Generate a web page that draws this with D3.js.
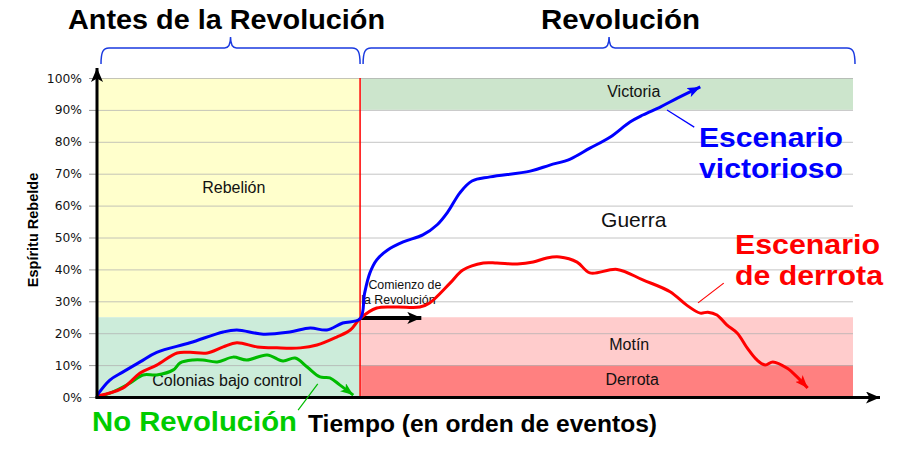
<!DOCTYPE html>
<html>
<head>
<meta charset="utf-8">
<script src="https://cdn.jsdelivr.net/npm/d3@7"></script>
<style>
  html, body { margin: 0; padding: 0; background: #fff; }
  svg { display: block; font-family: "Liberation Sans", Arial, sans-serif; }
</style>
</head>
<body>
<svg id="chart" width="900" height="454"></svg>
<script>
// ── Data ───────────────────────────────────────────────────
// t = time in order of events (0..100), v = rebel spirit (%)
const yTicks = [0, 10, 20, 30, 40, 50, 60, 70, 80, 90, 100];
const revolutionT = 34.8;

const victoriousT = [0, 1.7, 3.4, 5.7, 7.9, 12.3, 16.7, 18.5, 22, 25.5, 28.2, 30.4, 32.5, 34.8,
  35.4, 36.1, 37, 38.4, 40.5, 43.1, 45, 46.4, 48, 49.6, 52, 57.3, 59.9, 62.6, 65.2, 67.9,
  70.5, 72.2, 74.5, 76.2, 79.8];
const victoriousV = [0.5, 5.3, 7.8, 11, 14, 17, 20.4, 21, 19.7, 20.4, 21.6, 21, 23.2, 24.5,
  32.6, 38.9, 43, 46, 48.6, 50.8, 54, 58, 64, 67.7, 69, 70.8, 72.7, 74.6, 78, 81.5,
  86.2, 88.4, 90.9, 93, 97.2];

const defeatT = [0, 3.4, 5.7, 7.9, 10.6, 12.3, 14.6, 16.7, 18.5, 21.2, 23.8, 26.9, 29.1, 31.7,
  33.5, 34.8, 37, 39.7, 42.7, 44, 46.7, 48.4, 51.1, 52.9, 55.6, 57.7, 59.5, 61.2, 63.5,
  65.2, 68.8, 72.2, 75.8, 78, 79.8, 80.8, 82, 83.3, 84.7, 86, 87.3, 88.4, 89.4, 91.3, 92.6, 94];
const defeatV = [0.3, 2.8, 7.5, 10, 13.8, 14, 13.8, 15.7, 17, 15.7, 15.4, 15.4, 16.3, 18.8,
  21, 24.6, 27.9, 28.2, 28.2, 29.5, 35.7, 39.8, 42, 42, 41.7, 42.3, 43.6, 43.9, 42.3,
  38.9, 40, 36.7, 33, 28.8, 26.3, 26.6, 25.7, 22.6, 20, 15.4, 11.6, 10, 11, 9, 6.3, 2.8];

const noRevT = [0, 1.7, 4.4, 6.1, 7.9, 10.1, 11, 12.7, 14, 15.9, 18, 19.8, 22.5, 24.6, 26.2,
  27.8, 29.5, 30.8, 32.1, 33.9];
const noRevV = [0, 1.2, 4.4, 6.9, 6.9, 8.5, 10.7, 11.6, 11.6, 11, 12.5, 11.6, 13.2, 11.3, 12.2,
  9.4, 6.3, 6, 3.8, 0.6];

// phase bands: [t0, t1, v0, v1, label, colour]
const bands = [
  [0, revolutionT, 25, 100, 'Rebelión', '#ffffcc'],
  [0, revolutionT, 0, 25, 'Colonias bajo control', '#ccecda'],
  [revolutionT, 100, 90, 100, 'Victoria', '#cce5cc'],
  [revolutionT, 100, 25, 90, 'Guerra', '#ffffff'],
  [revolutionT, 100, 10, 25, 'Motín', '#ffcccc'],
  [revolutionT, 100, 0, 10, 'Derrota', '#ff8080']
];

// ── Setup ──────────────────────────────────────────────────
const svg = d3.select('#chart');
const x = d3.scaleLinear().domain([0, 100]).range([97, 853]);
const y = d3.scaleLinear().domain([0, 100]).range([397, 78]);

const defs = svg.append('defs');
function arrowMarker(id, color, len, wid) {
  defs.append('marker')
    .attr('id', id)
    .attr('markerUnits', 'userSpaceOnUse')
    .attr('viewBox', `0 0 ${len} ${wid}`)
    .attr('refX', len).attr('refY', wid / 2)
    .attr('markerWidth', len).attr('markerHeight', wid)
    .attr('orient', 'auto')
    .append('path')
    .attr('d', `M0,0 L${len},${wid / 2} L0,${wid} L${len * 0.25},${wid / 2} Z`)
    .attr('fill', color);
}
arrowMarker('ar-blue', '#0000ff', 13, 10);
arrowMarker('ar-red', '#ff0000', 13, 10);
arrowMarker('ar-green', '#00bb00', 13, 10);
arrowMarker('ar-black', '#000', 14, 12);

// ── Bands ──────────────────────────────────────────────────
svg.append('g').selectAll('rect').data(bands).enter().append('rect')
  .attr('x', d => x(d[0]) + 1)
  .attr('y', d => y(d[3]))
  .attr('width', d => x(d[1]) - x(d[0]) - 1)
  .attr('height', d => y(d[2]) - y(d[3]))
  .attr('fill', d => d[5]);

// Gridlines + ticks
const grid = svg.append('g');
grid.selectAll('line.grid').data(yTicks.slice(1)).enter().append('line')
  .attr('x1', x(0)).attr('x2', x(100))
  .attr('y1', d => y(d) + 0.5).attr('y2', d => y(d) + 0.5)
  .attr('stroke', '#b0b0b0').attr('stroke-opacity', 0.75).attr('stroke-width', 1);
grid.selectAll('line.tick').data(yTicks).enter().append('line')
  .attr('x1', x(0) - 8).attr('x2', x(0))
  .attr('y1', d => y(d) + 0.5).attr('y2', d => y(d) + 0.5)
  .attr('stroke', '#999').attr('stroke-width', 1);
grid.selectAll('text').data(yTicks).enter().append('text')
  .attr('x', 82).attr('y', d => y(d) + 4.5)
  .attr('text-anchor', 'end')
  .attr('font-family', '"DejaVu Sans", sans-serif')
  .attr('font-size', 12.3)
  .attr('fill', '#111')
  .text(d => d + '%');

// Band labels
const bandLabel = [
  { t: 18.1, v: 64, size: 16, text: 'Rebelión' },
  { t: 17.2, v: 3.5, size: 16, text: 'Colonias bajo control' },
  { t: 71, v: 94.2, size: 16, text: 'Victoria' },
  { t: 71, v: 53.3, size: 21, text: 'Guerra' },
  { t: 70.4, v: 14.7, size: 16, text: 'Motín' },
  { t: 70.8, v: 3.8, size: 16, text: 'Derrota' }
];
svg.append('g').selectAll('text').data(bandLabel).enter().append('text')
  .attr('x', d => x(d.t)).attr('y', d => y(d.v))
  .attr('text-anchor', 'middle')
  .attr('font-size', d => d.size)
  .attr('fill', '#111')
  .text(d => d.text);

// Comienzo de la Revolución
const comienzo = svg.append('text').attr('font-size', 12.4).attr('fill', '#111');
comienzo.append('tspan').attr('x', x(35.9)).attr('y', y(33.9)).text('Comienzo de');
comienzo.append('tspan').attr('x', x(34.95)).attr('y', y(29.2)).text('la Revolución');

// Revolution line
svg.append('line')
  .attr('x1', x(revolutionT)).attr('x2', x(revolutionT))
  .attr('y1', y(100)).attr('y2', y(0))
  .attr('stroke', '#ff0000').attr('stroke-width', 1.5);

// Black arrow
svg.append('line')
  .attr('x1', x(34.9)).attr('x2', x(42.9))
  .attr('y1', y(24.8)).attr('y2', y(24.8))
  .attr('stroke', '#000').attr('stroke-width', 4)
  .attr('marker-end', 'url(#ar-black)');

// ── Series ─────────────────────────────────────────────────
const line = d3.line()
  .x(d => x(d[0])).y(d => y(d[1]))
  .curve(d3.curveCatmullRom.alpha(0.5));

const series = [
  { t: noRevT, v: noRevV, color: '#00bb00', marker: 'ar-green' },
  { t: defeatT, v: defeatV, color: '#ff0000', marker: 'ar-red' },
  { t: victoriousT, v: victoriousV, color: '#0000ff', marker: 'ar-blue' }
];
series.forEach(s => {
  svg.append('path')
    .datum(d3.zip(s.t, s.v))
    .attr('d', line)
    .attr('fill', 'none')
    .attr('stroke', s.color)
    .attr('stroke-width', 3)
    .attr('stroke-linejoin', 'round')
    .attr('marker-end', `url(#${s.marker})`);
});

// ── Axes ───────────────────────────────────────────────────
svg.append('line')
  .attr('x1', x(0)).attr('x2', x(0))
  .attr('y1', y(0) + 1.5).attr('y2', 68)
  .attr('stroke', '#000').attr('stroke-width', 3)
  .attr('marker-end', 'url(#ar-black)');
svg.append('line')
  .attr('x1', x(0) - 1.5).attr('x2', 880)
  .attr('y1', y(0) + 0.5).attr('y2', y(0) + 0.5)
  .attr('stroke', '#000').attr('stroke-width', 3)
  .attr('marker-end', 'url(#ar-black)');

svg.append('text')
  .attr('transform', 'translate(38,230) rotate(-90)')
  .attr('text-anchor', 'middle')
  .attr('font-size', 14.5).attr('font-weight', 'bold')
  .text('Espíritu Rebelde');

// ── Leader lines ───────────────────────────────────────────
const leaders = [
  [75.4, 90, 79, 84.6, '#0000ff'],
  [79.5, 29.5, 82.9, 35.7, '#ff0000'],
  [29.2, 4.1, 26.6, -4.1, '#00bb00']
];
svg.append('g').selectAll('line').data(leaders).enter().append('line')
  .attr('x1', d => x(d[0])).attr('y1', d => y(d[1]))
  .attr('x2', d => x(d[2])).attr('y2', d => y(d[3]))
  .attr('stroke', d => d[4]).attr('stroke-width', 1.2);

// ── Big labels ─────────────────────────────────────────────
const bigLabels = [
  { x: 68, y: 29, size: 28, len: 317, color: '#000', text: 'Antes de la Revolución' },
  { x: 541, y: 29, size: 28, len: 159, color: '#000', text: 'Revolución' },
  { x: 699, y: 147, size: 27, len: 144, color: '#0000ff', text: 'Escenario' },
  { x: 699, y: 178, size: 27, len: 144, color: '#0000ff', text: 'victorioso' },
  { x: 735, y: 254, size: 27, len: 145, color: '#ff0000', text: 'Escenario' },
  { x: 735, y: 285, size: 27, len: 148, color: '#ff0000', text: 'de derrota' },
  { x: 92, y: 431, size: 27, len: 205, color: '#00cc00', text: 'No Revolución' },
  { x: 308, y: 432, size: 23, len: 349, color: '#000', text: 'Tiempo (en orden de eventos)' }
];
svg.append('g').selectAll('text').data(bigLabels).enter().append('text')
  .attr('x', d => d.x).attr('y', d => d.y)
  .attr('font-size', d => d.size).attr('font-weight', 'bold')
  .attr('fill', d => d.color)
  .attr('textLength', d => d.len)
  .attr('lengthAdjust', 'spacingAndGlyphs')
  .text(d => d.text);

// ── Braces ─────────────────────────────────────────────────
function brace(x0, x1) {
  const yb = 64, yh = 48, yt = 37, mid = (x0 + x1) / 2;
  return `M${x0},${yb} C${x0},${yh + 4} ${x0 + 2},${yh} ${x0 + 8},${yh} L${mid - 6},${yh} ` +
    `C${mid - 2},${yh} ${mid},${yh - 3} ${mid},${yt} C${mid},${yh - 3} ${mid + 2},${yh} ${mid + 6},${yh} ` +
    `L${x1 - 8},${yh} C${x1 - 2},${yh} ${x1},${yh + 4} ${x1},${yb}`;
}
svg.append('path').attr('d', brace(x(0) + 4, x(revolutionT)))
  .attr('fill', 'none').attr('stroke', '#1a3ae0').attr('stroke-width', 1.5);
svg.append('path').attr('d', brace(x(revolutionT) + 3, x(100) + 2))
  .attr('fill', 'none').attr('stroke', '#1a3ae0').attr('stroke-width', 1.5);
</script>
</body>
</html>
